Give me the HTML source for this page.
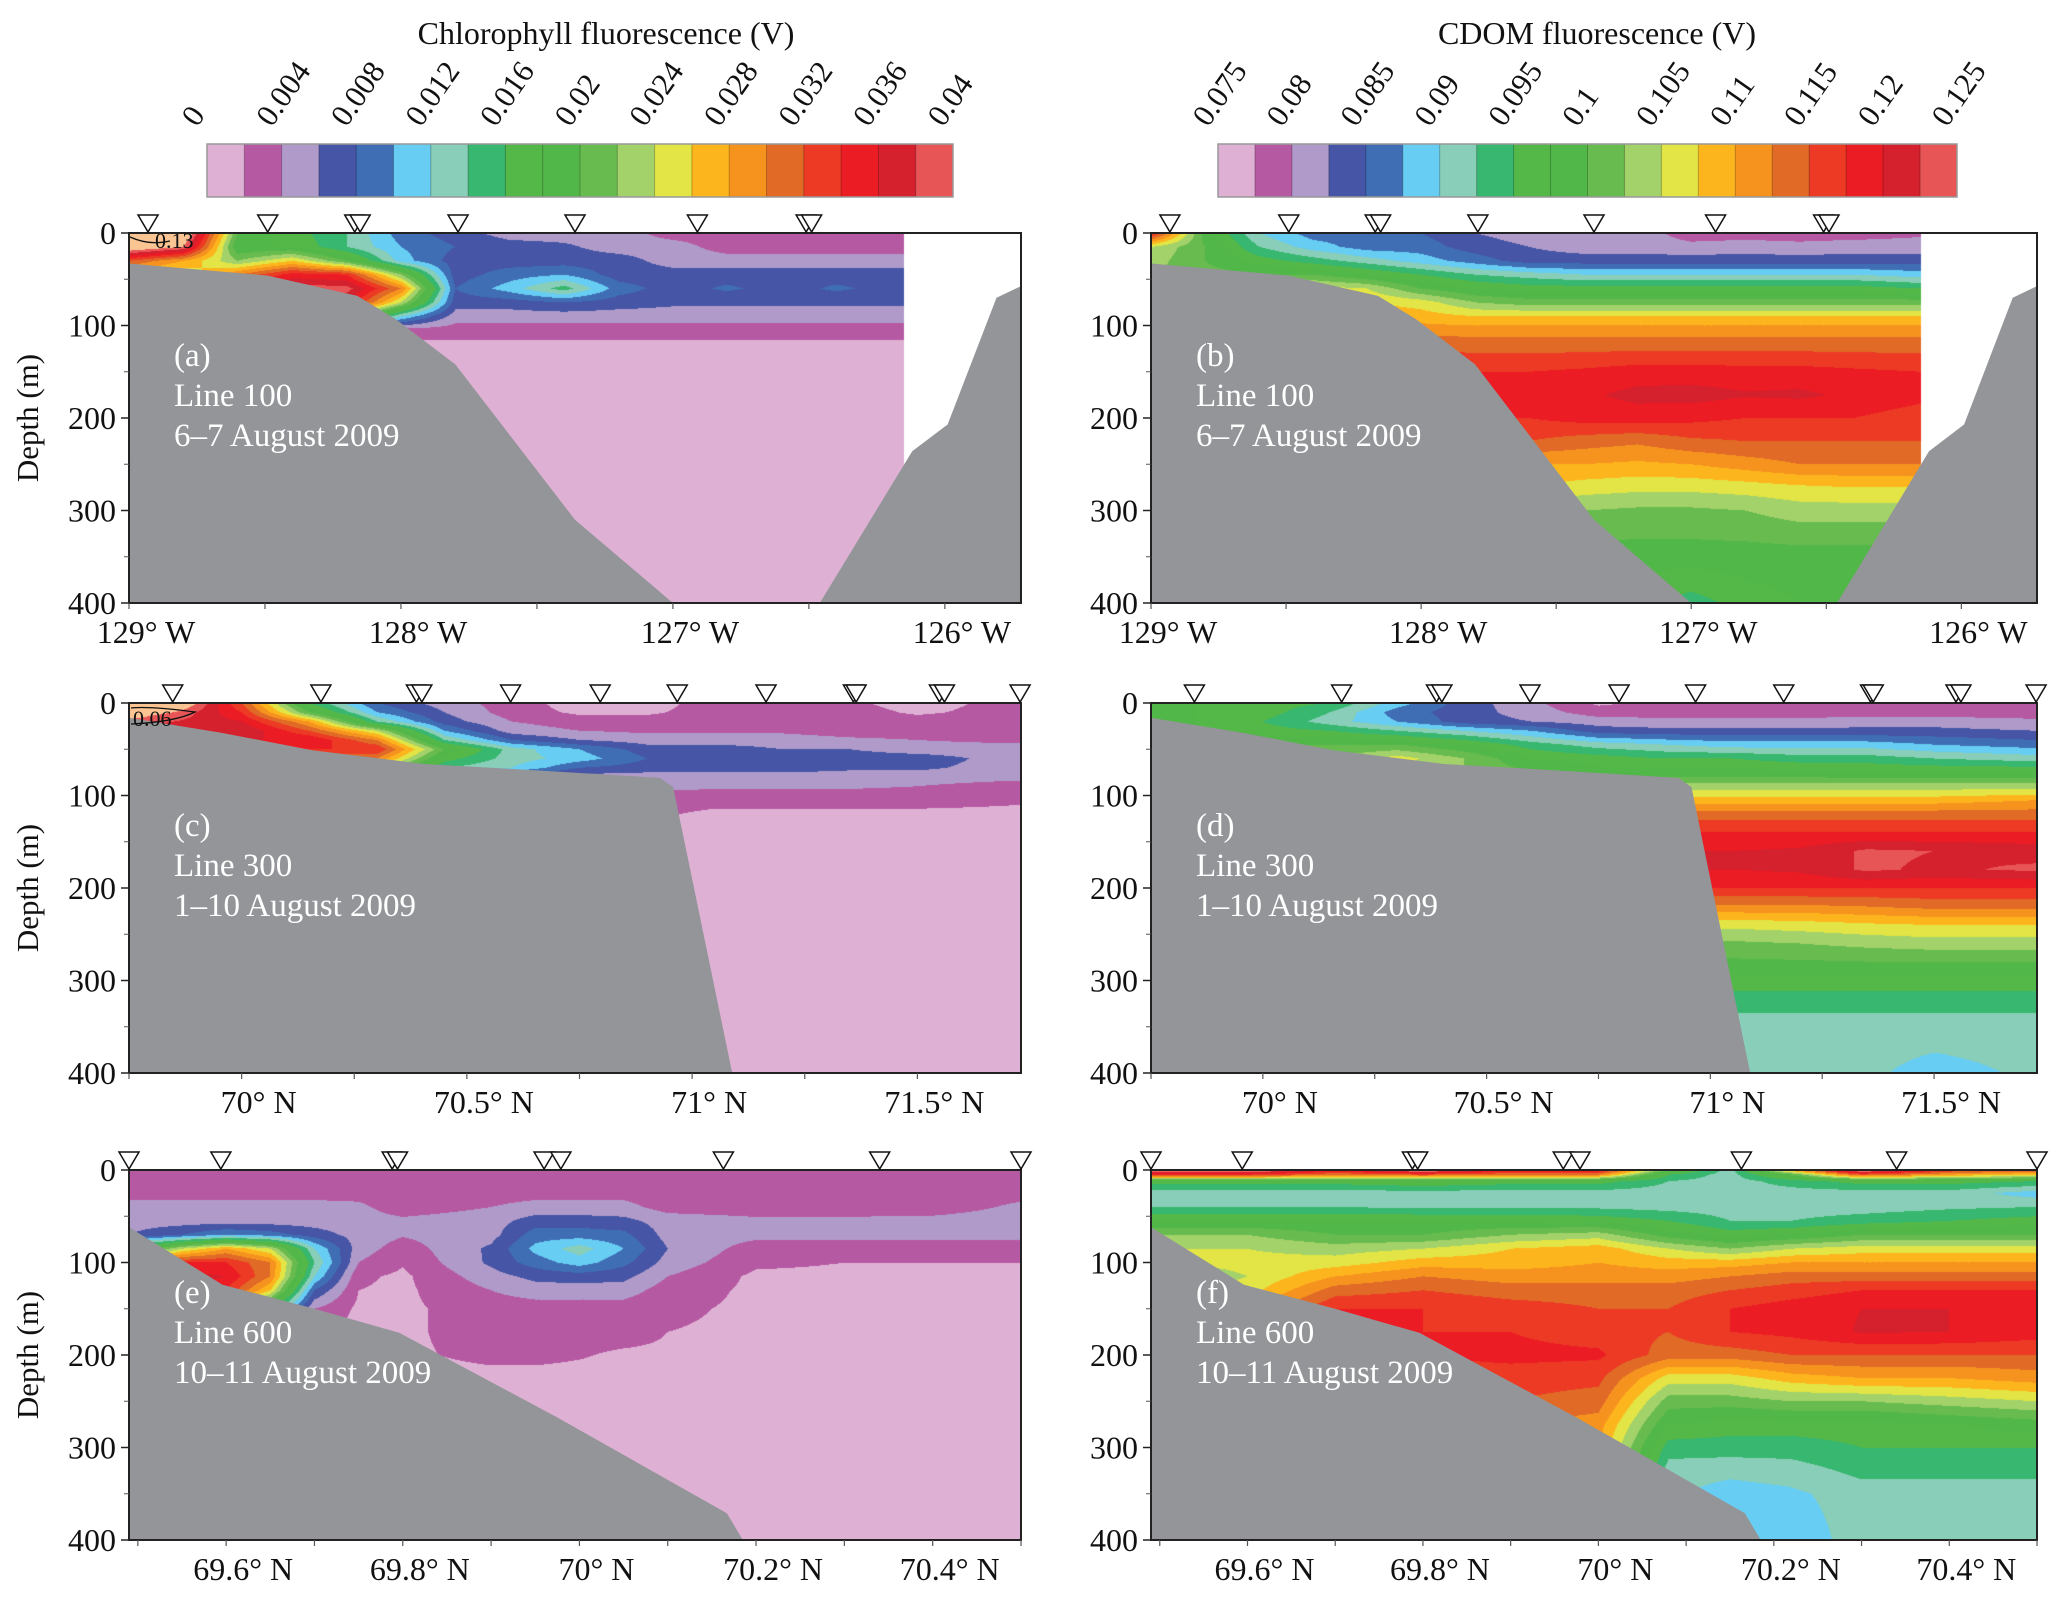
<!DOCTYPE html>
<html><head><meta charset="utf-8">
<style>
html,body{margin:0;padding:0;background:#fff;}
#root{position:relative;width:2067px;height:1603px;overflow:hidden;background:#fff;font-family:"Liberation Serif",serif;}
canvas{position:absolute;}
svg{position:absolute;left:0;top:0;font-family:"Liberation Serif",serif;}
svg text{font-family:"Liberation Serif",serif;}
</style></head>
<body>
<div id="root">
<svg id="ov" width="2067" height="1603" viewBox="0 0 2067 1603" font-family="Liberation Serif, serif"></svg>
</div>
<script>
// ---- colour scale (20 bins) ----
const binColors = ["#DEB1D4","#B659A3","#AF9AC9","#4655A6","#3F6EB5","#68CDF2","#89CEB8","#37B76F","#53B848","#52B749","#68BB4F","#A3D16A","#E2E545","#FDB51D","#F6931F","#E06A26","#EC3A24","#EC1C24","#D5202E","#E85557"];
const overColor = "#FBC593";
const bathyColor = "#939598";
const chlTickLabels = ["0","0.004","0.008","0.012","0.016","0.02","0.024","0.028","0.032","0.036","0.04"];
const cdomTickLabels = ["0.075","0.08","0.085","0.09","0.095","0.1","0.105","0.11","0.115","0.12","0.125"];
// field values are given in colour-bar steps above the scale minimum
// (chlorophyll: 0 V + n*0.002 V ; CDOM: 0.075 V + n*0.0025 V)

// ---- Line 100 (a, b) ----
const line100Lon = [129.0,128.8,128.6,128.4,128.2,128.0,127.8,127.6,127.4,127.2,127.0,126.8,126.6,126.4,126.15];
const chlADepth = [0,15,30,45,60,75,90,105,120,150,400];
const chlA = [
[22,22,10,8.5,7,4.5,3.5,2.5,2.5,2.5,1.5,1.5,1.5,1.5,1.5],
[21.5,20,9,9,7,5,4,3.5,3.2,2.5,2.5,1.5,1.5,1.5,1.5],
[16,14,11,13,10,5.5,3.5,3.5,3.5,3.5,2.5,2.5,2.5,2.5,2.5],
[13,12,15,17.5,17,11,3.5,4.5,5,3.5,3.5,3.5,3.5,3.5,3.5],
[12,12,18,19.5,19.5,15,4,5.5,7.5,4.5,3.5,4.2,3.5,4.2,3.5],
[10,12,17,18.5,18,12,3.5,3.5,4,3.5,3.2,3.2,3.2,3.2,3.2],
[8,10,12,14,12,6,2.5,2.5,2.5,2.5,2.5,2.5,2.5,2.5,2.5],
[6,6,6,6,4,1.5,1.5,1.5,1.5,1.5,1.5,1.5,1.5,1.5,1.5],
[2,2,2,2,1.2,0.8,0.8,0.8,0.8,0.8,0.8,0.8,0.8,0.8,0.8],
[0.5,0.5,0.5,0.5,0.5,0.5,0.5,0.5,0.5,0.5,0.5,0.5,0.5,0.5,0.5],
[0.5,0.5,0.5,0.5,0.5,0.5,0.5,0.5,0.5,0.5,0.5,0.5,0.5,0.5,0.5]];
const cdomBDepth = [0,15,30,45,60,75,90,105,120,150,175,200,225,250,275,300,350,400];
const cdomB = [
[17.5,9.5,6,4.5,4.5,4,3,2.5,2.5,2.5,1.5,1.5,1.5,1.5,1.8],
[12,10,7,5.5,4.5,4.5,3.5,3,2.5,2.5,2.3,2.5,2.3,2.5,2.5],
[11.5,10,8.5,7.5,6.5,5.5,4.5,3.5,3.5,3.5,3.5,3.5,3.5,3.5,3.5],
[11,10.5,10,10,9,8,7,6.5,6,6,6,6,6,6,5.5],
[11,11,12,12.5,12,10,9,8.5,8.5,8.5,8.5,8.5,8.5,8.5,8],
[12,12,13,13.5,13,12.5,11,10.5,10.5,10.5,10.5,10.5,10.5,10.5,10.5],
[13,13,13.5,14,14,13.5,13,13,13,13,13,13,13,13,13],
[14,14,14.5,15,15,14.5,14.5,14.5,14.5,14.5,14.5,14.5,14.5,14.5,14.5],
[15,15,15.5,16,16,15.8,15.5,15.5,15.5,15.5,15.5,15.5,15.5,15.5,15.5],
[17,17,17,17,17,17,17,17,17.2,17.5,17.5,17.4,17.4,17.2,17],
[17,17,17,17,17,17,17.3,17.5,17.8,18.3,18.4,18.1,18.2,17.8,17.3],
[16.5,16.5,16.5,16.5,16.5,16.5,17,17,17.4,17.5,17.3,17,17,17,16.5],
[15.5,15.5,15.5,15.5,15.5,15.5,16,16,15.5,15.2,15.8,16,16,16,16],
[13.5,13.5,13.5,13.5,13.5,13.5,14.5,14,14,13.8,14,14.5,15,15,15],
[13,13,13,13,13,13,13,13,12.5,12.3,12.3,12.5,12.8,13,13],
[11.5,11.5,11.5,11.5,11.5,11.5,11.5,11.5,11,10.8,10.8,11,11.5,11.5,11.5],
[9.5,9.5,9.5,9.5,9.5,9.5,9.5,9.5,9.5,9.5,9.5,9.5,9.5,9.5,9.5],
[9,9,9,9,9,9,9,9,8.8,8.5,7.5,8.5,9,9,9]];
const line100Bathy = [[129.0,33],[128.49,46],[128.16,68],[128.02,93],[127.8,142],[127.36,310],[127.0,400]];
const line100BathyEast = [[126.46,400],[126.12,236],[125.99,207],[125.81,70],[125.71,56]];
const line100Stations = [128.93,128.49,128.17,128.15,127.79,127.36,126.91,126.51,126.49];

// ---- Line 300 (c, d) ----
const line300Lat = [69.72,69.85,70.0,70.15,70.3,70.45,70.6,70.75,70.9,71.05,71.2,71.35,71.5,71.73];
const chlCDepth = [0,10,20,30,40,50,60,70,80,90,100,120,150,400];
const chlC = [
[22,22,16,8,4,2.5,1.5,0.5,0.5,1.5,1.5,1.2,0.5,1.5],
[21,20,17,10,5,3,1.5,0.8,0.8,1.5,1.5,1.5,0.8,1.5],
[20,19,18,14,7,3.5,2,1.5,1.5,1.5,1.5,1.5,1.5,1.5],
[18,18,19,16,12,5,2.5,2,1.8,1.8,1.8,1.5,1.5,1.5],
[16,16,18,18,15,7,4,3,2.5,2.5,2.5,2.2,2,1.7],
[14,14,16,17,17,10,6.5,5,3.5,3.5,3,3,2.5,2.5],
[12,12,14,15,15,8.5,6.5,5.5,4,3.8,3.6,3.5,3.5,2.5],
[10,10,12,12,12,7,6,4,3.5,3.5,3.5,3.2,3.2,2.5],
[8,8,8,8,8,5,3,2.5,2.5,2.5,2.5,2.5,2.5,2.3],
[6,6,6,6,6,4,2.5,2.5,2.5,2.2,2.2,2.2,2,1.5],
[4,4,4,4,4,3,2,2,1.5,1.5,1.5,1.5,1.5,1.2],
[1.5,1.5,1.5,1.5,1.5,1.5,1.5,1.5,1.2,0.8,0.8,0.8,0.8,0.8],
[0.5,0.5,0.5,0.5,0.5,0.5,0.5,0.5,0.5,0.5,0.5,0.5,0.5,0.5],
[0.5,0.5,0.5,0.5,0.5,0.5,0.5,0.5,0.5,0.5,0.5,0.5,0.5,0.5]];
const cdomDDepth = [0,10,20,30,45,60,75,90,105,120,140,160,180,200,220,240,260,290,320,350,400];
const cdomD = [
[9,9,8.5,8,5.5,3.5,2.3,0.8,1.3,1.5,1.5,1.5,1.5,1.5],
[9,9,8.5,7,4.5,3.5,2.5,1.5,1.5,1.5,1.5,1.5,1.5,1.5],
[9,9,8,6.5,5,3.5,3,2.5,2.3,2.3,2.3,2.5,2.5,2.2],
[9,9,8.5,8,7,6,5,3.5,3.3,3.3,3.3,3.3,3.3,3],
[9,9.5,10,10,10,9,7.5,6.5,6,5.5,5.5,5.5,5,4.5],
[9.5,10,11,11,12.5,11,9,8.5,8,8,7.5,7.5,7,6.5],
[10,10.5,11,11,11.5,11,10,9.5,9.2,9.2,9.2,9,9,9],
[11,11,11.5,11.5,11.5,11.5,11.5,11.5,11.5,11.5,11.5,11.5,11.5,11.5],
[13.5,13.5,13.5,13.5,13.5,13.5,13.5,13.5,13.5,13.5,13.5,13.5,13.5,14],
[15.5,15.5,15.5,15.5,15.5,15.5,15.5,15.5,15.5,15.5,15.5,15.5,15.5,15.5],
[17,17,17,17,17,17,17,17,17,17,17,17,17,17],
[18,18,18,18,18,18,18,18,18,18,18.2,19.2,19.0,18.6],
[18,18,18,18,18,18,18,18,18,18,18.2,19.2,18.8,19.2],
[17,17,17,17,17,17,17,17,17,17,17,17,17,17],
[14.8,14.8,14.8,14.8,14.8,14.8,14.8,14.8,14.8,14.8,14.8,15,15.3,15.3],
[12.3,12.3,12.3,12.3,12.3,12.3,12.3,12.3,12.3,12.3,12.5,12.8,13,13],
[10.8,10.8,10.8,10.8,10.8,10.8,10.8,10.8,10.8,10.8,11,11.3,11.5,11.5],
[9.3,9.3,9.3,9.3,9.3,9.3,9.3,9.3,9.3,9.3,9.3,9.3,9.3,9.3],
[7.5,7.5,7.5,7.5,7.5,7.5,7.5,7.5,7.5,7.5,7.5,7.5,7.5,7.5],
[6.5,6.5,6.5,6.5,6.5,6.5,6.5,6.5,6.5,6.5,6.5,6.5,6.5,6.5],
[6.2,6.2,6.2,6.2,6.2,6.2,6.2,6.2,6.2,6.2,6.2,6.2,5.6,6.2]];
const line300Bathy = [[69.75,16],[69.953,32],[70.157,51],[70.405,66],[70.594,71],[70.929,81],[70.958,91],[71.089,400]];
const line300Stations = [69.847,70.176,70.388,70.40,70.597,70.796,70.967,71.164,71.358,71.364,71.549,71.56,71.728];

// ---- Line 600 (e, f) ----
const line600LatE = [69.49,69.55,69.6,69.65,69.7,69.75,69.8,69.9,69.95,70.0,70.05,70.1,70.2,70.3,70.4,70.5];
const chlEDepth = [0,20,40,55,70,85,100,115,130,150,175,200,230,400];
const chlE = [
[1.5,1.5,1.5,1.5,1.5,1.5,1.5,1.5,1.5,1.5,1.5,1.5,1.5,1.5,1.5,1.5],
[1.5,1.5,1.5,1.5,1.5,1.5,1.5,1.5,1.5,1.5,1.5,1.5,1.5,1.5,1.5,1.5],
[2.3,2.3,2.3,2.3,2.3,2.2,1.5,2,2.3,2.3,2.3,1.6,1.5,1.5,1.5,2.2],
[2.5,2.5,2.5,2.5,2.5,2.4,2.2,2.5,3.5,3.5,3.3,2.5,2.2,2.2,2.3,2.5],
[3,4,5,4.5,3.5,2.6,2.1,2.6,4.5,4.5,4.3,2.6,2.3,2.3,2.3,2.3],
[8,12,14,12,6,2.5,1.5,3.2,5.3,6.5,5,3,1.5,1.5,1.5,1.5],
[14,17,17,15,7,2,1.1,3.2,4.5,5.5,4.3,2.6,1.2,1,1,1],
[17,18.5,18,15,6,1.2,0.8,2.6,3.3,3.5,3.3,2,0.8,0.8,0.8,0.8],
[17,18,17,13,4,1,0.8,2,2.5,2.5,2.5,1.5,0.8,0.8,0.8,0.8],
[12,12,12,8,2,0.8,0.8,1.5,1.5,1.5,1.5,1.2,0.8,0.8,0.8,0.8],
[0.8,0.8,0.8,0.8,0.8,0.8,0.8,1.5,1.5,1.5,1.5,1,0.8,0.8,0.8,0.8],
[0.8,0.8,0.8,0.8,0.8,0.8,0.8,1.3,1.3,1.1,0.8,0.8,0.8,0.8,0.8,0.8],
[0.5,0.5,0.5,0.5,0.5,0.5,0.5,0.5,0.5,0.5,0.5,0.5,0.5,0.5,0.5,0.5],
[0.5,0.5,0.5,0.5,0.5,0.5,0.5,0.5,0.5,0.5,0.5,0.5,0.5,0.5,0.5,0.5]];
const line600LatF = [69.49,69.6,69.7,69.8,69.9,70.0,70.08,70.15,70.22,70.3,70.4,70.5];
const cdomFDepth = [0,5,12,25,40,55,70,85,100,115,130,150,175,200,225,250,275,300,325,350,400];
const cdomF = [
[21,21,18,21,18,18,10,6.5,14,21,17,16],
[17,17,15,16,15,15,8,6.5,10,16,14,13],
[8.5,8.5,8.5,9,8.5,8.5,7,6.5,7.5,8.5,8.5,8],
[6.5,6.5,6.5,6.5,6.5,6.5,6.5,6.5,6.5,6.5,6.5,5.5],
[7,7,7,6.8,6.8,6.8,6.6,6.5,6.5,6.5,6.8,7],
[9,9,9,9,9,8.7,8,7,7,7.5,8,8.5],
[11,11,10,10,11,11.5,9.5,8.5,9,10,10,10],
[12,12,11.5,12,13,13.5,12,11,12,12.5,12.5,12.5],
[12,12.3,12.5,13.5,13.5,14,13.5,13.5,14,14,14,14],
[11,12,14,15,14.5,14.5,14.5,15,15.5,15.5,15.5,15.5],
[11,12.5,15.5,16,15.5,15.5,15.5,16,16.5,17,17,17],
[12,14,17,17,16.5,16,16,17,17.5,18,18,18],
[12,14,17,17,17,16.5,16,17,17.3,18.1,18,17.5],
[12,14,17,17,17.3,17.2,15.5,15.5,16,16,16,16],
[12,14,16.5,16.5,16.5,16.3,12.5,12.5,13.5,14,14,14.5],
[12,14,16,16,16,15.5,10.5,10.5,11,11,11.5,12],
[12,14,15,15,15,14.5,9,8.5,8.5,8.5,9,9.5],
[12,14,14,14,14,14,7.5,7.5,7.5,8,8,8],
[12,14,14,14,14,14,6.5,6.3,6.5,7.3,7.3,7.3],
[6.2,6.2,6.2,6.2,6.2,6.2,6.2,5.5,5.8,6.5,6.5,6.5],
[6.2,6.2,6.2,6.2,6.2,6.2,6,5.5,5.3,6.5,6.5,6.5]];
const line600Bathy = [[69.49,62],[69.596,124],[69.70,150],[69.796,176],[69.974,267],[70.167,371],[70.185,400]];
const line600Stations = [69.49,69.594,69.788,69.794,69.96,69.979,70.163,70.34,70.50];

const depthTicks = [0,100,200,300,400];
const lonTicks = [129,128,127,126];
const lat300Ticks = [70,70.5,71,71.5];
const lat600Ticks = [69.6,69.8,70,70.2,70.4];

// ---- panels ----
const fmtN = v=>(Math.round(v*10)/10)+"° N";
const panels = [
 {key:"a",x0:129,y0:233,w:892,h:370,xl:129,xr:125.72,cols:line100Lon,depths:chlADepth,vals:chlA,bathy:[line100Bathy,line100BathyEast],st:line100Stations,ticks:lonTicks,minor:0.5,fmt:v=>v+"° W",clip:true,lines:["(a)","Line 100","6–7 August 2009"],yTitle:true},
 {key:"b",x0:1151,y0:233,w:886,h:370,xl:129,xr:125.72,cols:line100Lon,depths:cdomBDepth,vals:cdomB,bathy:[line100Bathy,line100BathyEast],st:line100Stations,ticks:lonTicks,minor:0.5,fmt:v=>v+"° W",clip:true,lines:["(b)","Line 100","6–7 August 2009"]},
 {key:"c",x0:129,y0:703,w:892,h:370,xl:69.75,xr:71.73,cols:line300Lat,depths:chlCDepth,vals:chlC,bathy:[line300Bathy],st:line300Stations,ticks:lat300Ticks,minor:0.25,fmt:fmtN,lines:["(c)","Line 300","1–10 August 2009"],yTitle:true},
 {key:"d",x0:1151,y0:703,w:886,h:370,xl:69.75,xr:71.73,cols:line300Lat,depths:cdomDDepth,vals:cdomD,bathy:[line300Bathy],st:line300Stations,ticks:lat300Ticks,minor:0.25,fmt:fmtN,lines:["(d)","Line 300","1–10 August 2009"]},
 {key:"e",x0:129,y0:1170,w:892,h:370,xl:69.49,xr:70.5,cols:line600LatE,depths:chlEDepth,vals:chlE,bathy:[line600Bathy],st:line600Stations,ticks:lat600Ticks,minor:0.1,fmt:fmtN,lines:["(e)","Line 600","10–11 August 2009"],yTitle:true},
 {key:"f",x0:1151,y0:1170,w:886,h:370,xl:69.49,xr:70.5,cols:line600LatF,depths:cdomFDepth,vals:cdomF,bathy:[line600Bathy],st:line600Stations,ticks:lat600Ticks,minor:0.1,fmt:fmtN,lines:["(f)","Line 600","10–11 August 2009"]}
];

const NS="http://www.w3.org/2000/svg";
const FONT="Liberation Serif, serif";
const ov=document.getElementById('ov');
const root=document.getElementById('root');
function mk(tag,attrs,parent){const e=document.createElementNS(NS,tag);for(const k in attrs)e.setAttribute(k,attrs[k]);if(tag==='text')e.setAttribute('font-family',FONT);(parent||ov).appendChild(e);return e;}
function hex(c){return [parseInt(c.slice(1,3),16),parseInt(c.slice(3,5),16),parseInt(c.slice(5,7),16)];}
const rgb=binColors.map(hex), rgbOver=hex(overColor);
function sx(p,v){return p.x0+(v-p.xl)/(p.xr-p.xl)*p.w;}
function sy(p,d){return p.y0+d/400*p.h;}
function seg(arr,v){let i=0;while(i<arr.length-2&&v>arr[i+1])i++;let t=(v-arr[i])/(arr[i+1]-arr[i]);return [i,Math.max(0,Math.min(1,t))];}

panels.forEach(p=>{
  const cv=document.createElement('canvas');
  cv.width=p.w;cv.height=p.h;cv.style.left=p.x0+'px';cv.style.top=p.y0+'px';
  
  
  root.insertBefore(cv,ov);
  const ctx=cv.getContext('2d');const img=ctx.createImageData(p.w,p.h);
  const cpx=p.cols.map(c=>sx(p,c)-p.x0), rpx=p.depths.map(d=>d/400*p.h);
  const lastPx=cpx[cpx.length-1];
  for(let y=0;y<p.h;y++){
    const [j,ty]=seg(rpx,y+0.5);
    for(let x=0;x<p.w;x++){
      const o=(y*p.w+x)*4;
      if(p.clip&&x+0.5>lastPx){img.data[o]=255;img.data[o+1]=255;img.data[o+2]=255;img.data[o+3]=255;continue;}
      const [i,tx]=seg(cpx,x+0.5);
      const v=(1-ty)*((1-tx)*p.vals[j][i]+tx*p.vals[j][i+1])+ty*((1-tx)*p.vals[j+1][i]+tx*p.vals[j+1][i+1]);
      let c;if(v>=20)c=rgbOver;else c=rgb[Math.max(0,Math.floor(v))];
      img.data[o]=c[0];img.data[o+1]=c[1];img.data[o+2]=c[2];img.data[o+3]=255;
    }
  }
  ctx.putImageData(img,0,0);
  const g=mk('g',{});
  
  
  const cp=mk('clipPath',{id:'clip-'+p.key},g);
  mk('rect',{x:p.x0,y:p.y0,width:p.w,height:p.h},cp);
  p.bathy.forEach((b,bi)=>{
    let pts=b.map(q=>[sx(p,q[0]),sy(p,q[1])]);
    if(bi===0){pts.unshift([p.x0,pts[0][1]]);pts.push([p.x0,p.y0+p.h]);}
    else{pts.push([p.x0+p.w+2,pts[pts.length-1][1]]);pts.push([p.x0+p.w+2,p.y0+p.h]);pts.push([pts[0][0],p.y0+p.h]);}
    const pg=mk('polygon',{points:pts.map(q=>q[0].toFixed(1)+','+q[1].toFixed(1)).join(' '),fill:bathyColor,'clip-path':'url(#clip-'+p.key+')'},g);
    
    
  });
  const fr=mk('rect',{x:p.x0,y:p.y0,width:p.w,height:p.h,fill:'none',stroke:'#222',"stroke-width":2},g);
  
  
  depthTicks.forEach(d=>{
    const y=sy(p,d);
    mk('line',{x1:p.x0-8,x2:p.x0,y1:y,y2:y,stroke:'#222','stroke-width':1.5},g);
    const t=mk('text',{x:p.x0-13,y:y+11,'text-anchor':'end','font-size':32,fill:'#111'},g);
    t.textContent=d;
    
    
    if(d<400)mk('line',{x1:p.x0-5,x2:p.x0,y1:sy(p,d+50),y2:sy(p,d+50),stroke:'#555','stroke-width':1},g);
  });
  const lo=Math.min(p.xl,p.xr),hi=Math.max(p.xl,p.xr);
  for(let v=Math.ceil(lo/p.minor)*p.minor;v<=hi+1e-9;v+=p.minor){
    const x=sx(p,v);mk('line',{x1:x,x2:x,y1:p.y0+p.h,y2:p.y0+p.h+6,stroke:'#555','stroke-width':1.2},g);
  }
  p.ticks.forEach(v=>{
    const x=sx(p,v);
    const t=mk('text',{x:x+17,y:p.y0+p.h+40,'text-anchor':'middle','font-size':32,fill:'#111'},g);
    t.textContent=p.fmt(v);
    
    
  });
  p.st.forEach(v=>{
    const x=sx(p,v),y=p.y0-1;
    const tr=mk('polygon',{points:`${x-10},${y-17} ${x+10},${y-17} ${x},${y}`,fill:'#fff',stroke:'#111','stroke-width':1.5},g);
    
    
  });
  p.lines.forEach((s,k)=>{
    const t=mk('text',{x:p.x0+45,y:p.y0+133+k*40,'font-size':33,fill:'#fff'},g);
    t.textContent=s;
    
    
  });
  if(p.yTitle){
    const cy=p.y0+p.h/2;
    const t=mk('text',{x:38,y:cy,'text-anchor':'middle','font-size':31,fill:'#111',transform:`rotate(-90 38 ${cy})`},g);
    t.textContent='Depth (m)';
    
    
  }
});
const c1=mk('path',{d:'M130,237 Q150,246 170,241',fill:'none',stroke:'#111','stroke-width':1.3});


const l1=mk('text',{x:155,y:248,'font-size':22,fill:'#111'});l1.textContent='0.13';


const c2=mk('path',{d:'M131,708 Q150,706 195,712 Q175,722 131,724',fill:'none',stroke:'#111','stroke-width':1.3});


const l2=mk('text',{x:133,y:726,'font-size':22,fill:'#111'});l2.textContent='0.06';



function colorbar(x0,w,labels,title,tx,key){
  const g=mk('g',{});
  
  
  const sw=w/binColors.length;
  binColors.forEach((c,i)=>{
    const r=mk('rect',{x:x0+i*sw,y:144,width:sw+0.5,height:53,fill:c},g);
    
    
    mk('line',{x1:x0+i*sw,x2:x0+i*sw,y1:144,y2:197,stroke:'rgba(0,0,0,0.25)','stroke-width':1},g);
  });
  mk('rect',{x:x0,y:144,width:w,height:53,fill:'none',stroke:'#999','stroke-width':1.5},g);
  labels.forEach((s,k)=>{
    const bx=x0+k*2*sw-10,by=128;
    const t=mk('text',{x:bx,y:by,'font-size':31,fill:'#111',transform:`rotate(-55 ${bx} ${by})`},g);
    t.textContent=s;
    
    
  });
  const t=mk('text',{x:tx,y:44,'text-anchor':'middle','font-size':32,fill:'#111'},g);
  t.textContent=title;
  
  
}
colorbar(207,746,chlTickLabels,'Chlorophyll fluorescence (V)',606,'chl');
colorbar(1218,739,cdomTickLabels,'CDOM fluorescence (V)',1597,'cdom');
</script>
</body></html>
